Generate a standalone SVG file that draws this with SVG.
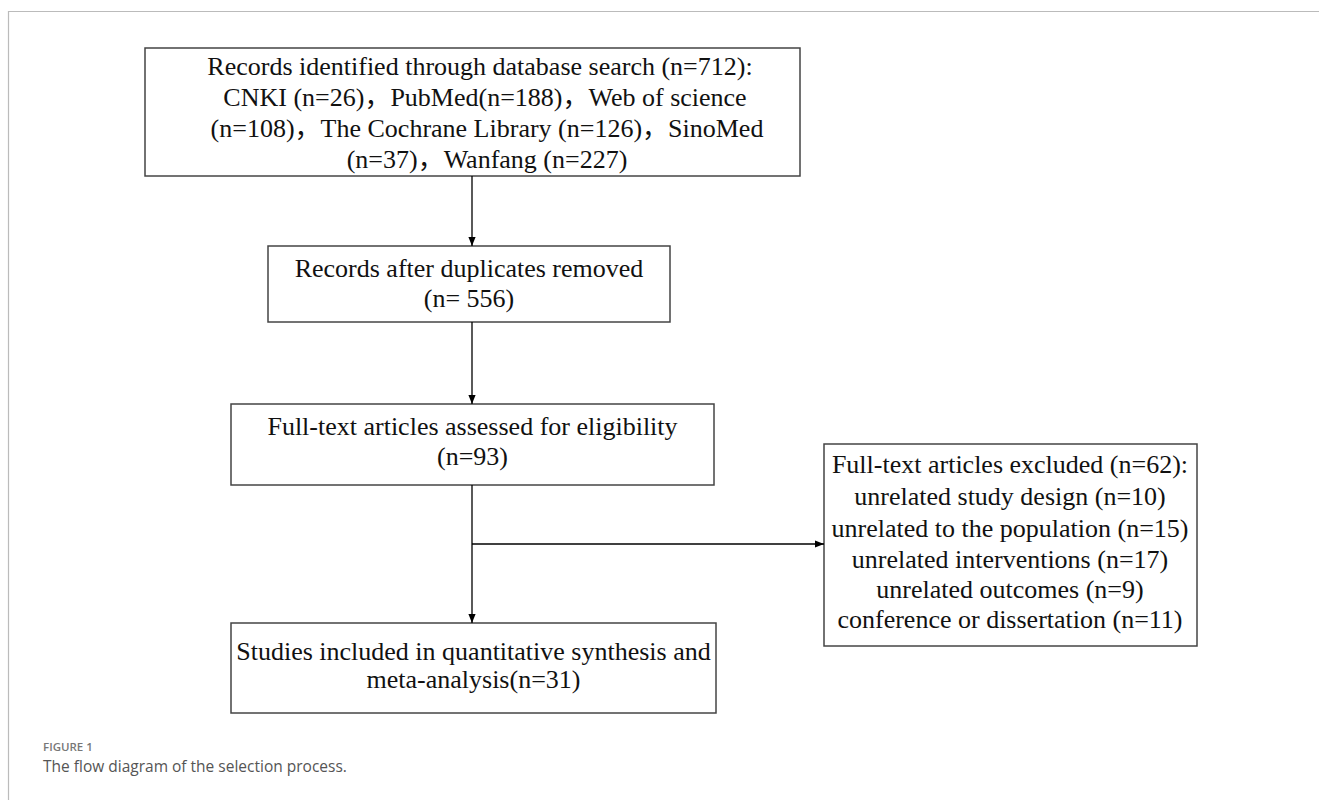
<svg xmlns="http://www.w3.org/2000/svg" width="1319" height="800" viewBox="0 0 1319 800">
<defs>
<style>
.box{fill:#fff;stroke:#444;stroke-width:1.5}
.t{font-family:"Liberation Serif","Noto Sans CJK SC",serif;font-size:26px;fill:#111;text-anchor:middle}
.c{stroke:#000;stroke-width:1.3;fill:none}
.cap1{font-family:"Open Sans","Noto Sans",sans-serif;font-size:11.5px;fill:#777;font-weight:600}
.cap2{font-family:"Open Sans","Noto Sans",sans-serif;font-size:15.5px;fill:#555}
</style>
<marker id="ah" viewBox="0 0 10 10" refX="10" refY="5" markerWidth="9" markerHeight="9" markerUnits="userSpaceOnUse" orient="auto">
<path d="M0,1 L10,5 L0,9 Z" fill="#000"/>
</marker>
</defs>
<rect width="1319" height="800" fill="#fff"/>
<path d="M8.5,800 V11.5 H1319" fill="none" stroke="#bbb" stroke-width="1.2"/>
<g id="n1">
<rect class="box" x="145" y="48" width="655" height="128"/>
<text class="t" x="480" y="75">Records identified through database search (n=712):</text>
<text class="t" x="485" y="106">CNKI (n=26)，PubMed(n=188)，Web of science</text>
<text class="t" x="487" y="137">(n=108)，The Cochrane Library (n=126)，SinoMed</text>
<text class="t" x="487" y="168">(n=37)，Wanfang (n=227)</text>
</g>
<g id="n2">
<rect class="box" x="268" y="246" width="402" height="76"/>
<text class="t" x="469" y="277">Records after duplicates removed</text>
<text class="t" x="469" y="307">(n= 556)</text>
</g>
<g id="n3">
<rect class="box" x="231" y="404" width="483" height="81"/>
<text class="t" x="472.5" y="435">Full-text articles assessed for eligibility</text>
<text class="t" x="472.5" y="465">(n=93)</text>
</g>
<g id="n4">
<rect class="box" x="231" y="623" width="485" height="90"/>
<text class="t" x="473.5" y="660">Studies included in quantitative synthesis and</text>
<text class="t" x="473.5" y="688">meta-analysis(n=31)</text>
</g>
<g id="n5">
<rect class="box" x="824" y="444" width="373" height="202"/>
<text class="t" x="1010" y="473">Full-text articles excluded (n=62):</text>
<text class="t" x="1010" y="505">unrelated study design (n=10)</text>
<text class="t" x="1010" y="537">unrelated to the population (n=15)</text>
<text class="t" x="1010" y="568">unrelated interventions (n=17)</text>
<text class="t" x="1010" y="598">unrelated outcomes (n=9)</text>
<text class="t" x="1010" y="628">conference or dissertation (n=11)</text>
</g>
<g id="connectors">
<line class="c" x1="472" y1="176" x2="472" y2="246" marker-end="url(#ah)"/>
<line class="c" x1="472" y1="322" x2="472" y2="404" marker-end="url(#ah)"/>
<line class="c" x1="472" y1="485" x2="472" y2="623" marker-end="url(#ah)"/>
<line class="c" x1="472" y1="544" x2="824" y2="544" marker-end="url(#ah)"/>
</g>
<text class="cap1" x="43" y="751">FIGURE 1</text>
<text class="cap2" x="43" y="772">The flow diagram of the selection process.</text>
</svg>
